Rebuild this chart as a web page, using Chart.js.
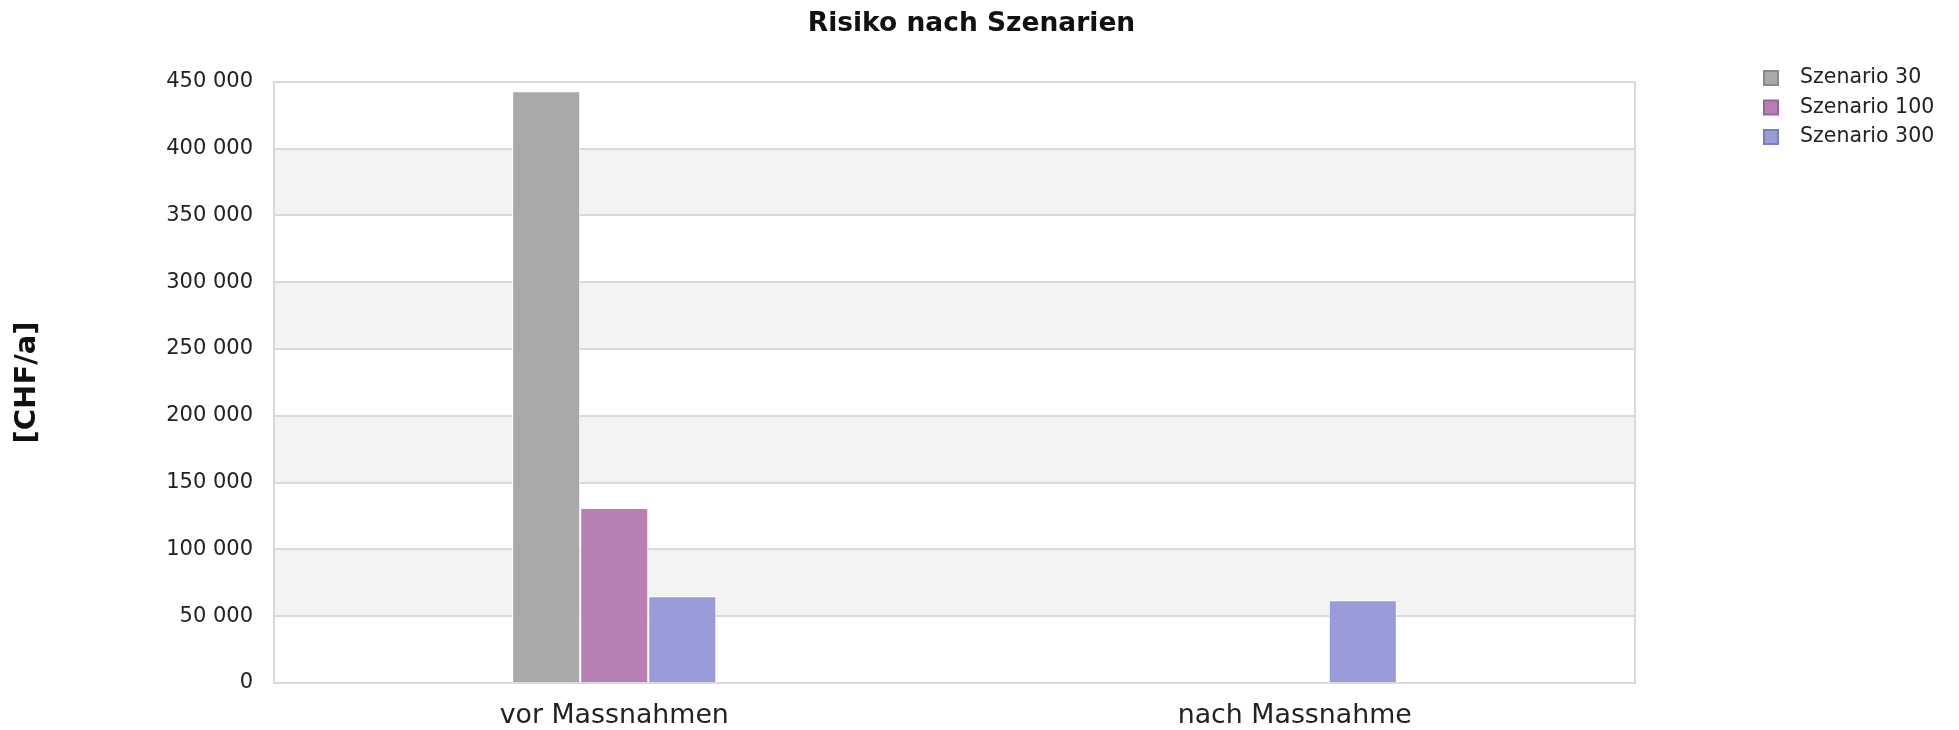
<!DOCTYPE html>
<html>
<head>
<meta charset="utf-8">
<script src="https://cdn.jsdelivr.net/npm/chart.js@4/dist/chart.umd.min.js"></script>
<style>
  html, body { margin: 0; padding: 0; background: #fff; }
  #wrap { width: 1959px; height: 730px; position: relative; }
</style>
</head>
<body>
<div id="wrap"><canvas id="myChart"></canvas></div>
<script>
// Daten
var categories = ["vor Massnahmen", "nach Massnahme"];
var seriesNames = ["Szenario 30", "Szenario 100", "Szenario 300"];
var szenario30 = [443000, null];
var szenario100 = [131000, null];
var szenario300 = [65000, 62000];
var seriesColors = ["#a9a9a9", "#b77fb3", "#9a9cda"];
var legendBorders = ["#8a8a8a", "#96669a", "#7c7eba"];

var FONT = "'DejaVu Sans', Verdana, sans-serif";

function fmt(v) {
  return String(v).replace(/\B(?=(\d{3})+(?!\d))/g, " ");
}

// abwechselnde graue Baender hinter dem Gitter
var bandPlugin = {
  id: "bands",
  beforeDraw: function (chart) {
    var ctx = chart.ctx, a = chart.chartArea, y = chart.scales.y;
    ctx.save();
    ctx.fillStyle = "#f3f3f3";
    for (var v = 50000; v < 450000; v += 100000) {
      var top = y.getPixelForValue(v + 50000), bot = y.getPixelForValue(v);
      ctx.fillRect(a.left, top, a.right - a.left, bot - top);
    }
    ctx.restore();
  },
  beforeDatasetsDraw: function (chart) {
    var ctx = chart.ctx, a = chart.chartArea;
    ctx.save();
    ctx.strokeStyle = "#d9d9d9";
    ctx.lineWidth = 2;
    ctx.beginPath();
    ctx.moveTo(a.right, a.top);
    ctx.lineTo(a.right, a.bottom);
    ctx.stroke();
    ctx.restore();
  }
};

// Legende rechts oben
var legendPlugin = {
  id: "sideLegend",
  afterDraw: function (chart) {
    var ctx = chart.ctx;
    ctx.save();
    ctx.font = "20.5px " + FONT;
    ctx.textBaseline = "middle";
    ctx.textAlign = "left";
    chart.data.datasets.forEach(function (ds, i) {
      var cy = 78 + i * 29.5;
      ctx.fillStyle = legendBorders[i];
      ctx.fillRect(1763, cy - 8, 16, 16);
      ctx.fillStyle = ds.backgroundColor;
      ctx.fillRect(1765, cy - 6, 12, 12);
      ctx.fillStyle = "#222";
      ctx.fillText(ds.label, 1800, cy);
    });
    ctx.restore();
  }
};

var chartData = {
  labels: categories,
  datasets: [
    { label: seriesNames[0], data: szenario30, backgroundColor: seriesColors[0] },
    { label: seriesNames[1], data: szenario100, backgroundColor: seriesColors[1] },
    { label: seriesNames[2], data: szenario300, backgroundColor: seriesColors[2] }
  ]
};
chartData.datasets.forEach(function (ds) {
  ds.borderColor = "#ffffff";
  ds.borderWidth = 1;
  ds.categoryPercentage = 0.3;
  ds.barPercentage = 1.0;
});

var chartConfig = {
  type: "bar",
  data: chartData,
  options: {
    responsive: true,
    maintainAspectRatio: false,
    animation: false,
    layout: { padding: { left: 0, right: 16, top: 0, bottom: 0 } },
    plugins: {
      legend: { display: false },
      tooltip: { enabled: false },
      title: {
        display: true,
        text: "Risiko nach Szenarien",
        color: "#111",
        font: { family: FONT, size: 26.5, weight: "bold" },
        padding: { top: 8, bottom: 42 }
      }
    },
    scales: {
      x: {
        grid: { display: false, drawTicks: false },
        border: { display: true, color: "#d9d9d9", width: 2 },
        ticks: { color: "#222", font: { family: FONT, size: 26.8 }, padding: 17 },
        afterFit: function (s) { s.height = 47; }
      },
      y: {
        min: 0,
        max: 450000,
        grid: { color: "#d9d9d9", lineWidth: 2, drawTicks: false },
        border: { display: true, color: "#d9d9d9", width: 2 },
        ticks: {
          stepSize: 50000,
          color: "#222",
          padding: 21,
          font: { family: FONT, size: 21 },
          callback: function (v) { return fmt(v); }
        },
        title: {
          display: true,
          text: "[CHF/a]",
          color: "#111",
          font: { family: FONT, size: 29, weight: "bold" },
          padding: { top: 10, bottom: 0 }
        },
        afterFit: function (s) { s.width = 274; }
      },
      // leere Achse rechts: Platz fuer die Legende
      yRight: {
        position: "right",
        display: true,
        grid: { display: false, drawTicks: false },
        border: { display: false },
        ticks: { display: false },
        afterFit: function (s) { s.width = 308; }
      }
    }
  },
  plugins: [bandPlugin, legendPlugin]
};

var myChart = new Chart(document.getElementById("myChart"), chartConfig);
</script>
</body>
</html>
